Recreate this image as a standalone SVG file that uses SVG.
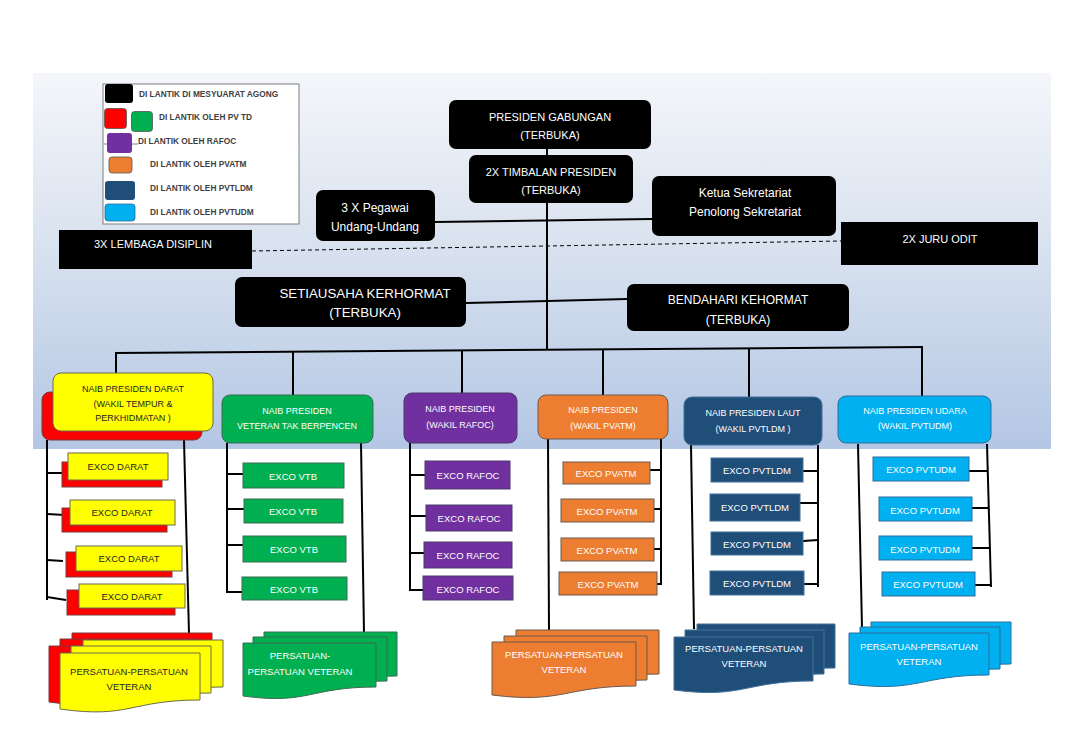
<svg xmlns="http://www.w3.org/2000/svg" width="1080" height="752" viewBox="0 0 1080 752">
<defs>
<linearGradient id="bg" x1="0" y1="0" x2="0" y2="1">
<stop offset="0" stop-color="#f4f6fa"/>
<stop offset="0.5" stop-color="#d6e0ee"/>
<stop offset="1" stop-color="#b3c6e4"/>
</linearGradient>
<style>
text{font-family:"Liberation Sans",Arial,sans-serif;text-anchor:middle;dominant-baseline:central}
.blk{fill:#000}
.wt{fill:#fff;font-size:11px}
.wt12{fill:#fff;font-size:12px}
.wt13{fill:#fff;font-size:13.3px}
.lg{fill:#404040;font-size:8.3px;font-weight:bold;text-anchor:start}
.n3{font-size:9px;fill:#fff}
.ex{font-size:9.5px;fill:#fff}
text.dk{fill:#262626}
.yel{fill:#ffff00;stroke:#6b6b4a;stroke-width:1}
.red{fill:#ff0000;stroke:#7a3a3a;stroke-width:1}
.grn{fill:#00b050;stroke:#3d6b55;stroke-width:1}
.pur{fill:#7030a0;stroke:#4c3a6b;stroke-width:1}
.org{fill:#ed7d31;stroke:#6b5a4f;stroke-width:1}
.dbl{fill:#1f4e79;stroke:#41719c;stroke-width:1}
.lbl{fill:#00b0f0;stroke:#2f6f9c;stroke-width:1}
.ln{stroke:#000;stroke-width:2;fill:none}
</style>
</defs>
<rect x="33" y="73" width="1018" height="376" fill="url(#bg)"/>

<g id="legend">
<rect x="103" y="84" width="196" height="140" fill="#fff" stroke="#7f7f7f" stroke-width="1"/>
<rect x="105" y="84" width="28" height="19" rx="3" fill="#000"/>
<text class="lg" x="139" y="94">DI LANTIK DI MESYUARAT AGONG</text>
<rect x="104.5" y="108.5" width="22" height="20" rx="3" fill="#ff0000" stroke="#555" stroke-width="0.8"/>
<rect x="131.5" y="111.5" width="21" height="20" rx="3" fill="#00b050" stroke="#555" stroke-width="0.8"/>
<text class="lg" x="159" y="117">DI LANTIK OLEH PV TD</text>
<line x1="104" y1="144" x2="138" y2="144" stroke="#7f7fa0" stroke-width="1"/>
<rect x="107" y="133" width="25" height="20" rx="3" fill="#7030a0"/>
<text class="lg" x="138" y="141">DI LANTIK OLEH RAFOC</text>
<rect x="109" y="157" width="23" height="16" rx="3" fill="#ed7d31" stroke="#555" stroke-width="0.8"/>
<text class="lg" x="150" y="164">DI LANTIK OLEH PVATM</text>
<rect x="105" y="181" width="30" height="19" rx="3" fill="#1f4e79"/>
<text class="lg" x="150" y="188">DI LANTIK OLEH PVTLDM</text>
<rect x="105" y="204" width="30" height="17" rx="3" fill="#00b0f0" stroke="#2f6f9c" stroke-width="0.8"/>
<text class="lg" x="150" y="212">DI LANTIK OLEH PVTUDM</text>
</g>

<g id="connectors">
<line class="ln" x1="547" y1="149" x2="547" y2="155"/>
<line class="ln" x1="547" y1="203" x2="547" y2="350"/>
<line class="ln" x1="435" y1="222" x2="652" y2="219"/>
<line x1="252" y1="251" x2="841" y2="241" stroke="#000" stroke-width="1" stroke-dasharray="4 3"/>
<line class="ln" x1="466" y1="303" x2="627" y2="299"/>
<line class="ln" x1="115" y1="353" x2="923" y2="347"/>
<line class="ln" x1="116" y1="352" x2="116" y2="373"/>
<line class="ln" x1="293" y1="351" x2="293" y2="395"/>
<line class="ln" x1="462" y1="350" x2="462" y2="393"/>
<line class="ln" x1="603" y1="349" x2="603" y2="395"/>
<line class="ln" x1="749" y1="348" x2="749" y2="397"/>
<line class="ln" x1="922" y1="347" x2="922" y2="396"/>
<polyline class="ln" points="47,440 47,600"/>
<line class="ln" x1="47" y1="473" x2="62" y2="473"/>
<line class="ln" x1="47" y1="514" x2="65" y2="515"/>
<line class="ln" x1="47" y1="560" x2="63" y2="561"/>
<line class="ln" x1="47" y1="597" x2="66" y2="600"/>
<line class="ln" x1="184" y1="440" x2="189" y2="634"/>
<polyline class="ln" points="227,443 227,592 242,592"/>
<line class="ln" x1="227" y1="474" x2="243" y2="474"/>
<line class="ln" x1="227" y1="509" x2="244" y2="509"/>
<line class="ln" x1="227" y1="545" x2="243" y2="545"/>
<line class="ln" x1="361" y1="443" x2="364" y2="633"/>
<polyline class="ln" points="410,443 410,590 423,590"/>
<line class="ln" x1="410" y1="475" x2="425" y2="475"/>
<line class="ln" x1="410" y1="516" x2="426" y2="516"/>
<line class="ln" x1="410" y1="553" x2="424" y2="553"/>
<polyline class="ln" points="661,439 661,584 657,584"/>
<line class="ln" x1="650" y1="470" x2="661" y2="470"/>
<line class="ln" x1="654" y1="509" x2="661" y2="509"/>
<line class="ln" x1="654" y1="549" x2="661" y2="549"/>
<line class="ln" x1="548" y1="439" x2="549" y2="631"/>
<polyline class="ln" points="818,445 818,587"/>
<line class="ln" x1="803" y1="471" x2="818" y2="471"/>
<line class="ln" x1="800" y1="503" x2="818" y2="503"/>
<line class="ln" x1="803" y1="541" x2="818" y2="540"/>
<line class="ln" x1="804" y1="584" x2="818" y2="584"/>
<line class="ln" x1="691" y1="445" x2="694" y2="629"/>
<polyline class="ln" points="987,444 991,587"/>
<line class="ln" x1="969" y1="471" x2="988" y2="471"/>
<line class="ln" x1="972" y1="508" x2="989" y2="508"/>
<line class="ln" x1="972" y1="548" x2="990" y2="548"/>
<line class="ln" x1="975" y1="585" x2="991" y2="585"/>
<line class="ln" x1="858" y1="444" x2="862" y2="628"/>
</g>

<g id="presiden">
<rect class="blk" x="449" y="100" width="202" height="49" rx="7"/>
<text class="wt" x="550" y="117">PRESIDEN GABUNGAN</text>
<text class="wt" x="550" y="135">(TERBUKA)</text>
</g>
<g id="timbalan">
<rect class="blk" x="469" y="155" width="164" height="48" rx="7"/>
<text class="wt" x="551" y="172">2X TIMBALAN PRESIDEN</text>
<text class="wt" x="551" y="190">(TERBUKA)</text>
</g>
<g id="pegawai">
<rect class="blk" x="316" y="190" width="119" height="51" rx="7"/>
<text class="wt12" x="375" y="208">3 X Pegawai</text>
<text class="wt12" x="375" y="227">Undang-Undang</text>
</g>
<g id="sekretariat">
<rect class="blk" x="652" y="176" width="184" height="60" rx="7"/>
<text class="wt12" x="745" y="193">Ketua Sekretariat</text>
<text class="wt12" x="745" y="212">Penolong Sekretariat</text>
</g>
<g id="lembaga">
<rect class="blk" x="59" y="230" width="193" height="39"/>
<text class="wt" x="153" y="244">3X LEMBAGA DISIPLIN</text>
</g>
<g id="juruodit">
<rect class="blk" x="841" y="222" width="197" height="43"/>
<text class="wt" x="940" y="239">2X JURU ODIT</text>
</g>
<g id="setiausaha">
<rect class="blk" x="235" y="277" width="231" height="50" rx="7"/>
<text class="wt13" x="365" y="293">SETIAUSAHA KERHORMAT</text>
<text class="wt13" x="365" y="312">(TERBUKA)</text>
</g>
<g id="bendahari">
<rect class="blk" x="627" y="284" width="222" height="47" rx="7"/>
<text class="wt12" x="738" y="300">BENDAHARI KEHORMAT</text>
<text class="wt12" x="738" y="320">(TERBUKA)</text>
</g>

<g id="np-darat">
<rect class="red" x="42" y="392" width="160" height="48" rx="8"/>
<rect class="yel" x="53" y="373" width="160" height="58" rx="8"/>
<text class="n3 dk" x="133" y="389">NAIB PRESIDEN DARAT</text>
<text class="n3 dk" x="133" y="404">(WAKIL TEMPUR &amp;</text>
<text class="n3 dk" x="133" y="418">PERKHIDMATAN )</text>
</g>
<g id="np-vtb">
<rect class="grn" x="222" y="395" width="151" height="48" rx="8"/>
<text class="n3" x="297" y="411">NAIB PRESIDEN</text>
<text class="n3" x="297" y="426">VETERAN TAK BERPENCEN</text>
</g>
<g id="np-rafoc">
<rect class="pur" x="404" y="393" width="113" height="50" rx="8"/>
<text class="n3" x="460" y="409">NAIB PRESIDEN</text>
<text class="n3" x="460" y="425">(WAKIL RAFOC)</text>
</g>
<g id="np-pvatm">
<rect class="org" x="538" y="395" width="130" height="44" rx="8"/>
<text class="n3" x="603" y="410">NAIB PRESIDEN</text>
<text class="n3" x="603" y="426">(WAKIL PVATM)</text>
</g>
<g id="np-laut">
<rect class="dbl" x="684" y="397" width="138" height="48" rx="8"/>
<text class="n3" x="753" y="413">NAIB PRESIDEN LAUT</text>
<text class="n3" x="753" y="429">(WAKIL PVTLDM )</text>
</g>
<g id="np-udara">
<rect class="lbl" x="838" y="396" width="153" height="47" rx="8"/>
<text class="n3" x="915" y="411">NAIB PRESIDEN UDARA</text>
<text class="n3" x="915" y="426">(WAKIL PVTUDM)</text>
</g>

<g id="exco-darat">
<rect class="red" x="62" y="462" width="100" height="25"/>
<rect class="yel" x="68" y="453" width="100" height="27"/>
<text class="ex dk" x="118" y="466">EXCO DARAT</text>
<rect class="red" x="62" y="508" width="105" height="24"/>
<rect class="yel" x="70" y="500" width="105" height="25"/>
<text class="ex dk" x="122" y="512">EXCO DARAT</text>
<rect class="red" x="66" y="552" width="106" height="25"/>
<rect class="yel" x="76" y="546" width="106" height="25"/>
<text class="ex dk" x="129" y="558">EXCO DARAT</text>
<rect class="red" x="67" y="590" width="108" height="25"/>
<rect class="yel" x="79" y="584" width="106" height="24"/>
<text class="ex dk" x="132" y="596">EXCO DARAT</text>
</g>
<g id="exco-vtb">
<rect class="grn" x="243" y="463" width="101" height="25"/>
<text class="ex" x="293" y="476">EXCO VTB</text>
<rect class="grn" x="244" y="499" width="99" height="24"/>
<text class="ex" x="293" y="511">EXCO VTB</text>
<rect class="grn" x="243" y="536" width="103" height="26"/>
<text class="ex" x="294" y="549">EXCO VTB</text>
<rect class="grn" x="242" y="577" width="105" height="23"/>
<text class="ex" x="294" y="589">EXCO VTB</text>
</g>
<g id="exco-rafoc">
<rect class="pur" x="425" y="461" width="85" height="28"/>
<text class="ex" x="468" y="475">EXCO RAFOC</text>
<rect class="pur" x="426" y="505" width="86" height="26"/>
<text class="ex" x="469" y="518">EXCO RAFOC</text>
<rect class="pur" x="424" y="542" width="88" height="26"/>
<text class="ex" x="468" y="555">EXCO RAFOC</text>
<rect class="pur" x="423" y="576" width="90" height="24"/>
<text class="ex" x="468" y="589">EXCO RAFOC</text>
</g>
<g id="exco-pvatm">
<rect class="org" x="563" y="462" width="87" height="22"/>
<text class="ex" x="606" y="473">EXCO PVATM</text>
<rect class="org" x="561" y="499" width="93" height="23"/>
<text class="ex" x="607" y="511">EXCO PVATM</text>
<rect class="org" x="561" y="538" width="93" height="23"/>
<text class="ex" x="607" y="550">EXCO PVATM</text>
<rect class="org" x="559" y="572" width="98" height="23"/>
<text class="ex" x="608" y="584">EXCO PVATM</text>
</g>
<g id="exco-pvtldm">
<rect class="dbl" x="711" y="458" width="92" height="24"/>
<text class="ex" x="757" y="470">EXCO PVTLDM</text>
<rect class="dbl" x="710" y="494" width="90" height="27"/>
<text class="ex" x="755" y="507">EXCO PVTLDM</text>
<rect class="dbl" x="711" y="532" width="92" height="23"/>
<text class="ex" x="757" y="544">EXCO PVTLDM</text>
<rect class="dbl" x="710" y="571" width="94" height="24"/>
<text class="ex" x="757" y="583">EXCO PVTLDM</text>
</g>
<g id="exco-pvtudm">
<rect class="lbl" x="873" y="457" width="96" height="24"/>
<text class="ex" x="921" y="469">EXCO PVTUDM</text>
<rect class="lbl" x="879" y="497" width="93" height="24"/>
<text class="ex" x="925" y="510">EXCO PVTUDM</text>
<rect class="lbl" x="879" y="536" width="93" height="24"/>
<text class="ex" x="925" y="549">EXCO PVTUDM</text>
<rect class="lbl" x="882" y="572" width="93" height="24"/>
<text class="ex" x="928" y="584">EXCO PVTUDM</text>
</g>

<g id="persatuan-darat">
<g class="red" transform="translate(-11,-7)">
<path d="M83,640H223V687C153,687 153,706 83,696Z"/>
<path d="M71,646H211V693C141,693 141,712 71,702Z"/>
<path d="M60,653H200V700C130,700 130,719 60,709Z"/>
</g>
<path class="yel" d="M83,640H223V687C153,687 153,706 83,696Z"/>
<path class="yel" d="M71,646H211V693C141,693 141,712 71,702Z"/>
<path class="yel" d="M60,653H200V700C130,700 130,719 60,709Z"/>
<text class="ex dk" x="129" y="671">PERSATUAN-PERSATUAN</text>
<text class="ex dk" x="129" y="686">VETERAN</text>
</g>
<g id="persatuan-vtb">
<path class="grn" d="M264,632H397V676C330,676 330,694 264,685Z"/>
<path class="grn" d="M253,637H387V681C320,681 320,699 253,690Z"/>
<path class="grn" d="M243,643H376V687C309,687 309,705 243,696Z"/>
<text class="ex" x="300" y="655">PERSATUAN-</text>
<text class="ex" x="300" y="671">PERSATUAN VETERAN</text>
</g>
<g id="persatuan-pvatm">
<path class="org" d="M516,630H659V674C588,674 588,692 516,683Z"/>
<path class="org" d="M504,636H647V680C576,680 576,698 504,689Z"/>
<path class="org" d="M492,642H636V686C564,686 564,704 492,695Z"/>
<text class="ex" x="564" y="654">PERSATUAN-PERSATUAN</text>
<text class="ex" x="564" y="669">VETERAN</text>
</g>
<g id="persatuan-pvtldm">
<path class="dbl" d="M697,624H835V668C766,668 766,686 697,677Z"/>
<path class="dbl" d="M685,630H824V674C755,674 755,692 685,683Z"/>
<path class="dbl" d="M674,637H813V681C744,681 744,699 674,690Z"/>
<text class="ex" x="744" y="648">PERSATUAN-PERSATUAN</text>
<text class="ex" x="744" y="663">VETERAN</text>
</g>
<g id="persatuan-pvtudm">
<path class="lbl" d="M871,622H1011V664C941,664 941,682 871,673Z"/>
<path class="lbl" d="M860,627H1000V669C930,669 930,687 860,678Z"/>
<path class="lbl" d="M849,633H989V675C919,675 919,693 849,684Z"/>
<text class="ex" x="919" y="646">PERSATUAN-PERSATUAN</text>
<text class="ex" x="919" y="661">VETERAN</text>
</g>
</svg>
